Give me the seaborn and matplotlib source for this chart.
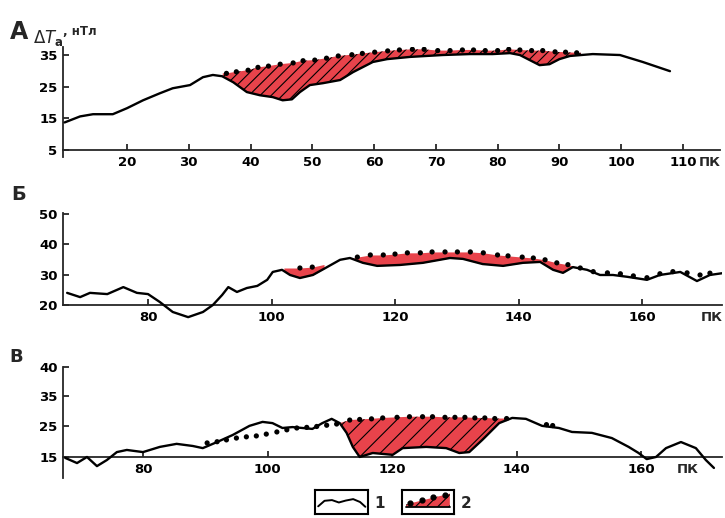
import numpy as np
import matplotlib
matplotlib.use('Agg')
import matplotlib.pyplot as plt
import seaborn as sns

# Panel A: observed anomaly along the profile (line) and regional level (dots)
a_pk = [9.9, 12.4, 14.5, 17.7, 20, 22.6, 25.3, 27.4, 30.2, 32.3, 33.9, 35.4,
        37.2, 39.4, 41.5, 43.6, 45.2, 46.7, 48, 49.6, 51.7, 54.5, 56.6, 59.8,
        62.1, 65.8, 71.1, 75.5, 79.2, 82, 83.6, 85.2, 86.8, 88.4, 90, 91.7,
        95.4, 99.8, 103.5, 107.9]
a_dT = [13.7, 15.6, 16.3, 16.3, 18.2, 20.7, 22.9, 24.5, 25.5, 28, 28.7, 28.3,
        26.4, 23.3, 22.3, 21.7, 20.7, 21, 23.3, 25.5, 26.1, 27.1, 29.6, 32.8,
        33.7, 34.4, 35, 35.3, 35.3, 35.6, 35, 33.4, 31.8, 32.1, 33.7, 34.7,
        35.3, 35, 32.8, 29.9]
a_dot_pk = [36.1, 37.7, 39.6, 41.2, 42.9, 44.8, 46.9, 48.5, 50.4, 52.3, 54.2,
            56.4, 58.1, 60.1, 62.2, 64.1, 66.2, 68.1, 70.3, 72.3, 74.3, 76.1,
            78.0, 80.0, 81.8, 83.6, 85.5, 87.3, 89.3, 91.0, 92.8]
a_dot_dT = [29.2, 29.7, 30.2, 31.1, 31.5, 32.1, 32.5, 33.2, 33.4, 34.0, 34.7,
            35.1, 35.5, 35.9, 36.3, 36.6, 36.8, 36.8, 36.4, 36.4, 36.6, 36.6,
            36.4, 36.4, 36.8, 36.6, 36.4, 36.4, 36.0, 35.9, 35.7]

# Panel Б
b_pk = [66.9, 69, 70.6, 73.4, 76, 78.2, 80, 81.9, 84, 86.5, 88.9, 90.5, 92,
        93, 94.4, 96, 97.7, 99.3, 100.2, 101.7, 103, 104.6, 106.7, 109, 111.1,
        112.7, 114.8, 117.1, 120.8, 124.5, 128.9, 131, 134.2, 137.5, 140.7,
        143.5, 145.6, 147.2, 148.8, 151.1, 153.2, 155.3, 157.6, 160.8, 162.9,
        166.2, 168.9, 171, 173.4]
b_dT = [24, 22.6, 24, 23.6, 25.9, 24, 23.6, 21, 17.7, 16, 17.7, 20, 23.3,
        25.9, 24.3, 25.6, 26.3, 28.3, 30.9, 31.6, 29.9, 28.9, 29.9, 32.5, 34.9,
        35.5, 33.9, 32.9, 33.2, 33.9, 35.5, 35.2, 33.5, 32.9, 33.9,
        34.2, 31.6, 30.6, 32.5, 31.6, 29.9, 29.9, 29.3, 28.3, 29.9,
        30.9, 27.9, 29.9, 30.6]
b_dot_pk = [104.6, 106.6, 113.9, 116, 118.1, 120, 122, 124.1, 126, 128.1,
            130.1, 132.2, 134.3, 136.6, 138.3, 140.6, 142.4, 144.3, 146.2,
            148, 150, 152.1, 154.4, 156.5, 158.6, 160.8, 162.9, 165, 167.3,
            169.4, 171]
b_dot_dT = [32.2, 32.5, 35.8, 36.5, 36.5, 36.8, 37.2, 37.2, 37.5, 37.5, 37.5,
            37.5, 37.2, 36.5, 36.2, 35.8, 35.5, 34.9, 33.9, 33.3, 32.2, 31.0,
            30.6, 30.3, 29.6, 29.0, 30.3, 31.0, 30.6, 29.9, 30.5]

# Panel В
c_pk = [67.5, 69.4, 71, 72.6, 74.2, 75.8, 77.4, 80, 82.7, 85.4, 88, 89.6,
        91.9, 94.4, 97.1, 99.2, 100.8, 102.4, 104, 105.6, 107.2, 108.8, 110.3,
        111.6, 112.7, 113.7, 114.8, 116.9, 120.1, 121.7, 125.5, 128.7, 130.8,
        132.4, 134.5, 137.2, 139.3, 141.5, 144.1, 146.8, 148.9, 152.1, 155.3,
        158, 159.6, 160.9, 162.4, 164, 166.4, 168.8, 170.4, 171.7]
c_dT = [14.7, 13, 15, 12, 14, 16.6, 17.3, 16.6, 18.3, 19.3, 18.6, 17.9,
        19.9, 22.2, 25.2, 26.5, 26.1, 24.5, 24.8, 24.5, 24.2, 26.1, 27.5,
        26.1, 22.9, 18.3, 15, 16.3, 15.7, 17.9, 18.3, 17.9, 16.3,
        16.6, 20.6, 26.1, 27.8, 27.5, 25.2, 24.5, 23.2, 22.9, 21.2,
        18.3, 16.3, 14.3, 15, 17.9, 19.9, 17.9, 14, 11.4]
c_dot_pk = [90.3, 91.9, 93.4, 95.0, 96.6, 98.2, 99.8, 101.5, 103.1, 104.7,
            106.3, 107.9, 109.5, 111.1, 113.2, 114.8, 116.7, 118.5, 120.8,
            122.8, 124.9, 126.5, 128.5, 130.1, 131.7, 133.3, 134.9, 136.5,
            138.4, 144.8, 145.8]
c_dot_dT = [19.6, 20.0, 20.6, 21.2, 21.6, 21.9, 22.5, 23.2, 23.9, 24.5, 24.7,
            25.0, 25.4, 25.8, 27.1, 27.3, 27.5, 27.8, 28.0, 28.2, 28.2, 28.2,
            28.0, 28.0, 28.0, 27.8, 27.8, 27.6, 27.6, 25.6, 25.3]

a_ticks = [20, 30, 40, 50, 60, 70, 80, 90, 100, 110]
bc_ticks = [80, 100, 120, 140, 160]

# legend glyph shapes
wave_x = [0.06, 0.18, 0.32, 0.45, 0.58, 0.72, 0.85, 0.95]
wave_y = [0.32, 0.55, 0.58, 0.48, 0.56, 0.62, 0.5, 0.3]

RED = '#e8434b'

sns.set_style('ticks')
plt.rcParams['font.family'] = ['DejaVu Sans']
plt.rcParams['hatch.linewidth'] = 0.8
plt.rcParams['axes.linewidth'] = 1.3


def fill_gap(ax, pk, val, dpk, dval, lo, hi, hatch=None):
    grid = np.unique(np.concatenate([[lo, hi], [p for p in pk if lo < p < hi],
                                     [p for p in dpk if lo < p < hi]]))
    low = np.interp(grid, pk, val)
    top = np.interp(grid, dpk, dval)
    ax.fill_between(grid, low, top, where=top >= low, interpolate=True,
                    facecolor=RED, edgecolor='black', linewidth=0,
                    hatch=hatch, zorder=1)


def style_axis(ax, xlim, ylim, base, yticks, ylabels, xticks, pk_label):
    ax.set_xlim(*xlim)
    ax.set_ylim(*ylim)
    ax.spines['top'].set_visible(False)
    ax.spines['right'].set_visible(False)
    ax.spines['bottom'].set_position(('data', base))
    ax.set_xticks(xticks)
    ax.set_xticklabels([str(t) for t in xticks])
    ax.set_yticks(yticks)
    ax.set_yticklabels(ylabels)
    ax.tick_params(direction='in', length=4, width=1.1, labelsize=9.5,
                   colors='black', pad=4)
    for lab in ax.get_xticklabels() + ax.get_yticklabels():
        lab.set_fontweight('bold')
    ax.annotate('ПК', xy=(pk_label, base), xytext=(0, -4),
                textcoords='offset points', ha='center', va='top',
                fontsize=9.5, fontweight='bold')
    ax.set_xlabel('')
    ax.set_ylabel('')


fig = plt.figure(figsize=(7.25, 5.18), dpi=100)
ax_a = fig.add_axes([0.0869, 0.6969, 0.9062, 0.2124])
ax_b = fig.add_axes([0.0869, 0.3822, 0.909, 0.2066])
ax_c = fig.add_axes([0.0869, 0.0772, 0.909, 0.2143])

# A
fill_gap(ax_a, a_pk, a_dT, a_dot_pk, a_dot_dT, 35.5, 93.5, hatch='///')
sns.lineplot(x=a_pk, y=a_dT, ax=ax_a, color='black', lw=1.7, zorder=3)
sns.scatterplot(x=a_dot_pk, y=a_dot_dT, ax=ax_a, color='black', s=14,
                edgecolor='none', zorder=4)
style_axis(ax_a, (9.64, 116), (2.78, 37.54), 5, [5, 15, 25, 35],
           ['5', '15', '25', '35'], a_ticks, 114.4)

# Б
fill_gap(ax_b, b_pk, b_dT, b_dot_pk, b_dot_dT, 102, 108.5)
fill_gap(ax_b, b_pk, b_dT, b_dot_pk, b_dot_dT, 112.5, 149)
sns.lineplot(x=b_pk, y=b_dT, ax=ax_b, color='black', lw=1.7, zorder=3)
sns.scatterplot(x=b_dot_pk, y=b_dot_dT, ax=ax_b, color='black', s=14,
                edgecolor='none', zorder=4)
style_axis(ax_b, (66.23, 172.96), (15.05, 50.33), 20, [20, 30, 40, 50],
           ['20', '30', '40', '50'], bc_ticks, 171.3)
ax_b.spines['left'].set_bounds(20, 50.33)

# В
fill_gap(ax_c, c_pk, c_dT, c_dot_pk, c_dot_dT, 111.5, 139, hatch='//')
sns.lineplot(x=c_pk, y=c_dT, ax=ax_c, color='black', lw=1.7, zorder=3)
sns.scatterplot(x=c_dot_pk, y=c_dot_dT, ax=ax_c, color='black', s=14,
                edgecolor='none', zorder=4)
style_axis(ax_c, (67.15, 173), (8.1, 44.5), 15, [15, 25, 35, 44.5],
           ['15', '25', '35', '40'], bc_ticks, 167.5)

# panel letters and axis title
fig.text(0.013, 0.925, 'А', fontsize=17, fontweight='semibold')
fig.text(0.046, 0.917, r'$\Delta T_{\mathbf{a}}$', fontsize=12,
         fontweight='bold', style='italic')
fig.text(0.087, 0.932, ', нТл', fontsize=8.5, fontweight='bold')
fig.text(0.016, 0.614, 'Б', fontsize=14, fontweight='semibold')
fig.text(0.013, 0.302, 'В', fontsize=13, fontweight='semibold')

# legend boxes
lg1 = fig.add_axes([315 / 725, 1 - 514 / 518, 53 / 725, 24 / 518])
lg1.plot(wave_x, wave_y, color='black', lw=1.4)
lg2 = fig.add_axes([402 / 725, 1 - 514 / 518, 52 / 725, 24 / 518])
lg2.fill_between([0.08, 0.92], [0.3, 0.3], [0.4, 0.85], facecolor=RED,
                 edgecolor='black', linewidth=0, hatch='///')
lg2.plot([0.08, 0.92], [0.28, 0.28], color='black', lw=1.3)
lg2.scatter([0.15, 0.38, 0.6, 0.82], [0.45, 0.57, 0.69, 0.8], s=12,
            color='black', zorder=3)
for lg in (lg1, lg2):
    lg.set_xlim(0, 1)
    lg.set_ylim(0, 1)
    lg.set_xticks([])
    lg.set_yticks([])
    for sp in lg.spines.values():
        sp.set_linewidth(1.5)
        sp.set_color('black')
fig.text(374 / 725, 1 - 508 / 518, '1', fontsize=11, fontweight='bold')
fig.text(461 / 725, 1 - 508 / 518, '2', fontsize=11, fontweight='bold')

fig.savefig('out.png', dpi=100)
